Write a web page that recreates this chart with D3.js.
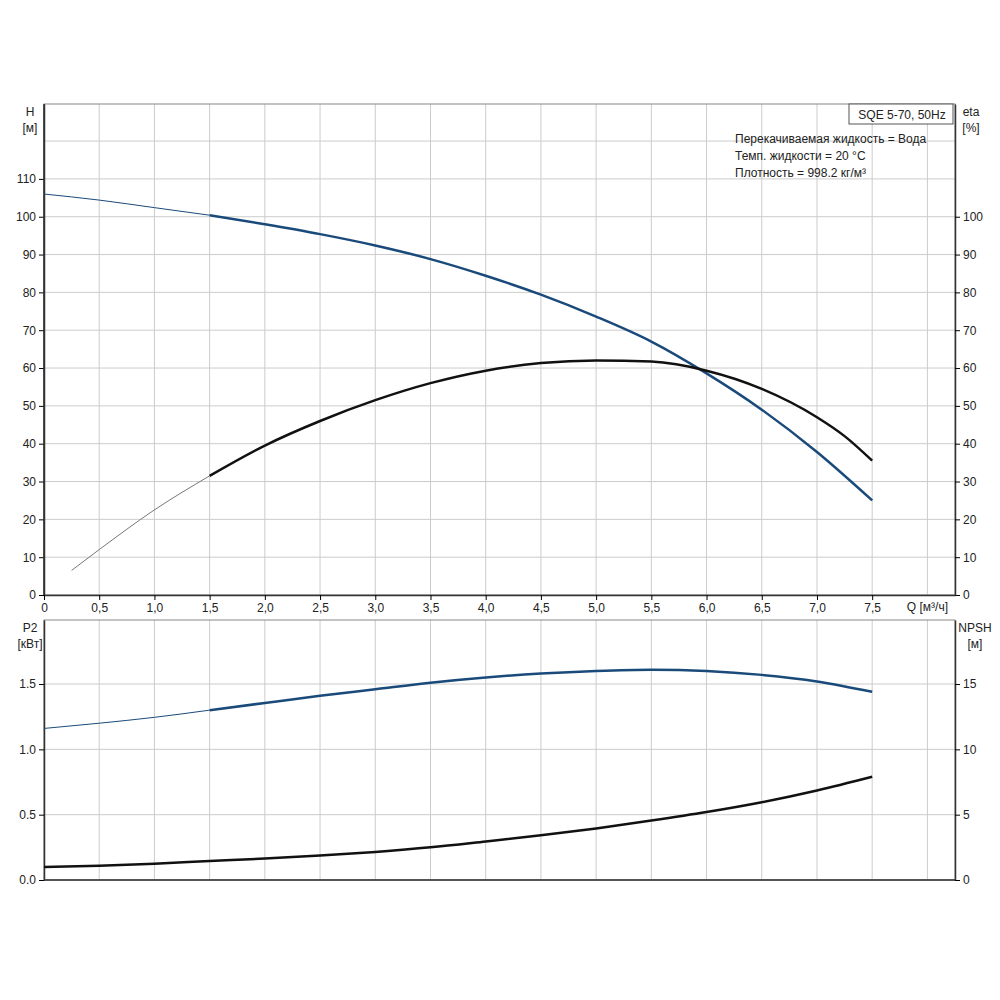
<!DOCTYPE html><html><head><meta charset="utf-8"><script src="https://cdn.jsdelivr.net/npm/d3@7"></script>
<style>body{margin:0;background:#fff}text{font-family:Arial,"Liberation Sans",sans-serif;font-size:12px;fill:#222}</style></head><body><svg id="c" width="1000" height="1000"></svg><script>
const qH=[0,0.5,1,1.5,2,2.5,3,3.5,4,4.5,5,5.5,6,6.5,7,7.5];
const H=[106,104.4,102.4,100.4,98,95.4,92.4,88.8,84.4,79.4,73.6,67,58.6,49,37.8,25];
const qEta=[0.25,0.5,1,1.5,2,2.5,3,3.5,4,4.5,5,5.5,6,6.5,7,7.25,7.5];
const eta=[6.5,12,22.5,31.5,39.5,46,51.5,56,59.3,61.3,62,61.7,59.3,54.5,47,42,35.5];
const qP=[0,0.5,1,1.5,2,2.5,3,3.5,4,4.5,5,5.5,6,6.5,7,7.5];
const P2=[1.16,1.2,1.245,1.3,1.355,1.41,1.46,1.51,1.55,1.58,1.6,1.61,1.6,1.57,1.52,1.44];
const NPSH=[1.0,1.1,1.25,1.45,1.64,1.87,2.15,2.5,2.95,3.42,3.95,4.55,5.2,5.95,6.85,7.9];
const xTicks=[0,0.5,1,1.5,2,2.5,3,3.5,4,4.5,5,5.5,6,6.5,7,7.5];
const hTicks=[0,10,20,30,40,50,60,70,80,90,100,110];
const etaTicks=[0,10,20,30,40,50,60,70,80,90,100];
const pTicks=[0,0.5,1,1.5];
const nTicks=[0,5,10,15];
const svg=d3.select("#c");
const L=44,R=955;
const x=d3.scaleLinear().domain([0,8.25]).range([L,R]);
const yH=d3.scaleLinear().domain([0,129.8]).range([595,104]);
const yE=yH;
const yP=d3.scaleLinear().domain([0,1.99]).range([880,620]);
const yN=d3.scaleLinear().domain([0,19.9]).range([880,620]);
const fmt=d=>d===0?"0":d3.format(".1f")(d).replace(".",",");
function panel(y,top,bot,gridVals){
  const g=svg.append("g");
  xTicks.concat([8]).forEach(v=>g.append("line").attr("x1",x(v)).attr("x2",x(v)).attr("y1",top).attr("y2",bot).attr("stroke","#ccc"));
  gridVals.forEach(v=>g.append("line").attr("x1",L).attr("x2",R).attr("y1",y(v)).attr("y2",y(v)).attr("stroke","#ccc"));
  g.append("rect").attr("x",L).attr("y",top).attr("width",R-L).attr("height",bot-top).attr("fill","none").attr("stroke","#888");
}
panel(yH,104,595,[120,...hTicks]);
panel(yP,620,880,[...pTicks]);
function axis(gen,tx,ticks,f){const a=svg.append("g").attr("transform",tx).call(gen.tickValues(ticks).tickFormat(f).tickSize(5).tickSizeOuter(0));a.select(".domain").attr("stroke","#333").attr("stroke-width",1.5);a.selectAll("text").style("font-size","12px").attr("fill","#222");return a;}
axis(d3.axisLeft(yH),`translate(${L},0)`,hTicks,d3.format("d"));
axis(d3.axisRight(yE),`translate(${R},0)`,etaTicks,d3.format("d"));
axis(d3.axisBottom(x),`translate(0,595)`,xTicks,fmt);
axis(d3.axisLeft(yP),`translate(${L},0)`,pTicks,d=>d3.format(".1f")(d));
axis(d3.axisRight(yN),`translate(${R},0)`,nTicks,d3.format("d"));
svg.append("line").attr("x1",L).attr("x2",R).attr("y1",880).attr("y2",880).attr("stroke","#333").attr("stroke-width",1.5);
svg.append("line").attr("x1",L).attr("x2",L).attr("y1",104).attr("y2",595).attr("stroke","#333").attr("stroke-width",1.5);
const t=(x0,y0,s,a)=>svg.append("text").attr("x",x0).attr("y",y0).attr("text-anchor",a||"middle").text(s);
t(30,116,"H");t(30,132,"[м]");t(971,116,"eta");t(971,132,"[%]");
t(30,632,"P2");t(30,648,"[кВт]");t(975,632,"NPSH");t(975,648,"[м]");
t(948,611,"Q [м³/ч]","end");
svg.append("rect").attr("x",849).attr("y",104).attr("width",104).attr("height",20).attr("fill","#fff").attr("stroke","#555");
t(902,119,"SQE 5-70, 50Hz");
t(735,143,"Перекачиваемая жидкость = Вода","start");
t(735,160,"Темп. жидкости = 20 °C","start");
t(735,177,"Плотность = 998.2 кг/м³","start");
function curve(qs,vs,y,col,cut,cutIdx){
  const pts=qs.map((q,i)=>[x(q),y(vs[i])]);
  const ln=d3.line().curve(d3.curveMonotoneX);
  if(cutIdx>0)svg.append("path").attr("d",ln(pts.slice(0,cutIdx+1))).attr("fill","none").attr("stroke",cut).attr("stroke-width",1);
  svg.append("path").attr("d",ln(pts.slice(cutIdx))).attr("fill","none").attr("stroke",col).attr("stroke-width",2.5);
}
curve(qH,H,yH,"#1a4a7a","#1a4a7a",3);
curve(qEta,eta,yE,"#111","#777",3);
curve(qP,P2,yP,"#1a4a7a","#1a4a7a",3);
curve(qP,NPSH,yN,"#111","#111",0);
</script></body></html>
